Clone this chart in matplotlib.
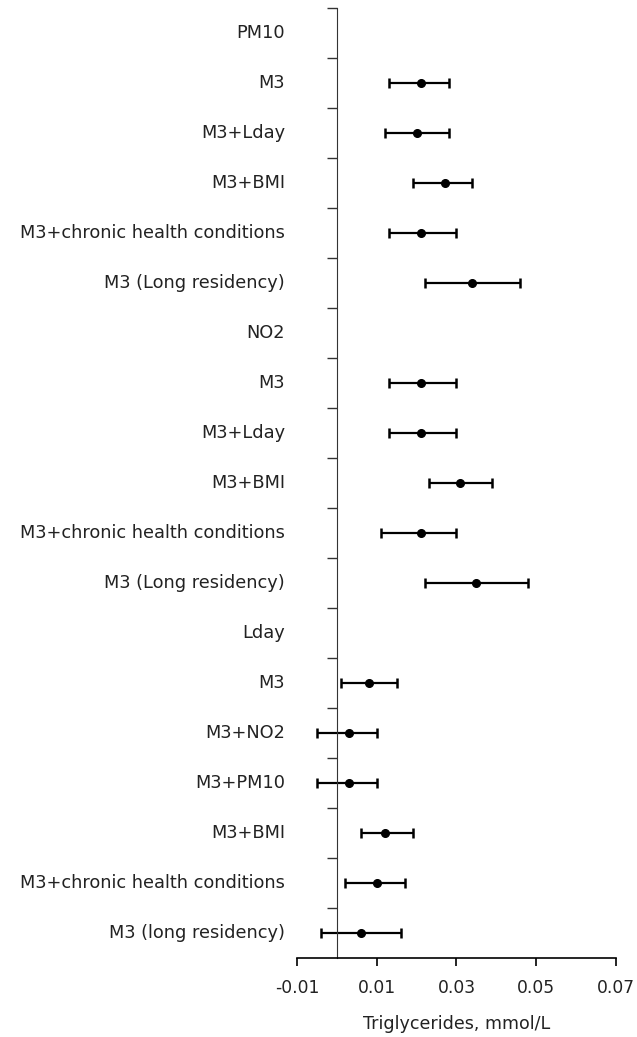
import matplotlib.pyplot as plt
import matplotlib.transforms as mtransforms

plt.rcParams['font.family'] = ['DejaVu Sans']

# linhas do forest plot, de cima para baixo
rotulos = ["PM10", "M3", "M3+Lday", "M3+BMI", "M3+chronic health conditions", "M3 (Long residency)",
           "NO2", "M3", "M3+Lday", "M3+BMI", "M3+chronic health conditions", "M3 (Long residency)",
           "Lday", "M3", "M3+NO2", "M3+PM10", "M3+BMI", "M3+chronic health conditions", "M3 (long residency)"]
# None = linha de cabeçalho (sem estimativa)
estimativa = [None, 0.021, 0.020, 0.027, 0.021, 0.034,
              None, 0.021, 0.021, 0.031, 0.021, 0.035,
              None, 0.008, 0.003, 0.003, 0.012, 0.010, 0.006]
ic_inf = [None, 0.013, 0.012, 0.019, 0.013, 0.022,
          None, 0.013, 0.013, 0.023, 0.011, 0.022,
          None, 0.001, -0.005, -0.005, 0.006, 0.002, -0.004]
ic_sup = [None, 0.028, 0.028, 0.034, 0.030, 0.046,
          None, 0.030, 0.030, 0.039, 0.030, 0.048,
          None, 0.015, 0.010, 0.010, 0.019, 0.017, 0.016]
xticks = [-0.01, 0.01, 0.03, 0.05, 0.07]

fig = plt.figure(figsize=(6.37, 10.37), dpi=100)
ax = fig.add_axes([297 / 637, 1 - 958 / 1037, 319 / 637, 950 / 1037])

n = len(rotulos)
for i in range(n):
    if estimativa[i] is None:
        continue
    ax.errorbar(estimativa[i], i,
                xerr=[[estimativa[i] - ic_inf[i]], [ic_sup[i] - estimativa[i]]],
                fmt='o', color='black', ms=5.5, elinewidth=1.6, capsize=3.3, capthick=1.8)

ax.set_ylim(n - 0.5, -0.5)
ax.set_xlim(-0.01, 0.07)
ax.set_xticks(xticks)
ax.set_xticklabels(["-0.01", "0.01", "0.03", "0.05", "0.07"], fontsize=12.3, color='#222222')
ax.set_yticks([i - 0.5 for i in range(n)])
ax.set_yticklabels([])
ax.tick_params(axis='y', direction='out', length=7, width=1, color='#333333')
ax.tick_params(axis='x', direction='out', length=6, width=1.2, pad=9)

ax.spines['left'].set_position(('data', 0))
ax.spines['right'].set_visible(False)
ax.spines['top'].set_visible(False)
ax.spines['left'].set_color('#333333')
ax.spines['bottom'].set_linewidth(1.2)

trans = mtransforms.blended_transform_factory(ax.transAxes, ax.transData)
for i, r in enumerate(rotulos):
    ax.text(-0.038, i, r, transform=trans, ha='right', va='center',
            fontsize=12.8, color='#222222')

ax.set_xlabel("Triglycerides, mmol/L", fontsize=12.6, labelpad=13, color='#222222')

fig.savefig("out.png", dpi=100)
